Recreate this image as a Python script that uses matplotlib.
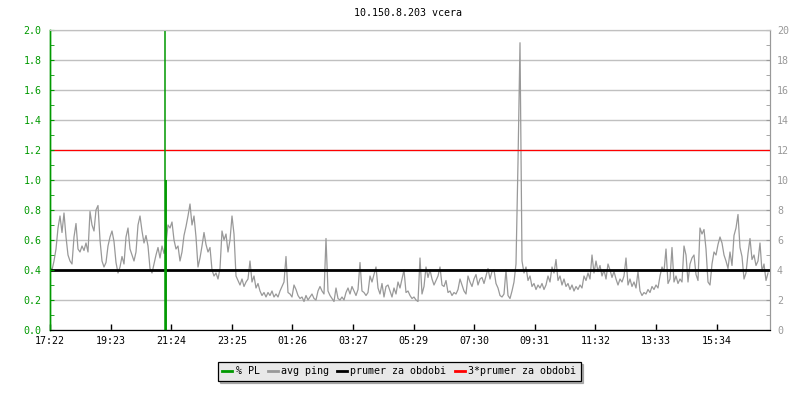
import matplotlib
matplotlib.use("Agg")
import matplotlib.pyplot as plt
import numpy as np

GREEN = "#009900"; GREY = "#999999"; GRID = "#c0c0c0"; RED = "#ff0000"
FONT = "DejaVu Sans Mono"
plt.rcParams.update({"font.family": FONT, "font.size": 7.2})

# avg ping in ms, one sample every 4 minutes starting 17:22
ping = [
    4.2, 4.0, 4.6, 5.4, 6.8, 7.6, 6.5, 7.8, 6.2, 5.0, 4.6, 4.4, 6.2, 7.1, 5.4, 5.2, 5.6, 5.3, 5.8, 5.2,
    7.9, 7.0, 6.6, 8.0, 8.3, 6.0, 4.6, 4.2, 4.5, 5.6, 6.2, 6.6, 5.9, 4.5, 3.8, 4.2, 4.9, 4.4, 6.2, 6.8,
    5.4, 5.0, 4.6, 5.2, 7.0, 7.6, 6.6, 5.8, 6.3, 5.6, 4.1, 3.8, 4.4, 5.0, 5.5, 4.8, 5.6, 5.1, 5.8, 7.0,
    6.8, 7.2, 6.0, 5.4, 5.6, 4.6, 5.2, 6.3, 6.9, 7.6, 8.4, 7.0, 7.6, 6.2, 4.2, 4.8, 5.6, 6.5, 5.7, 5.2,
    5.5, 4.0, 3.6, 3.8, 3.4, 4.1, 6.6, 6.0, 6.4, 5.2,
    6.0, 7.6, 6.4, 3.6, 3.3, 3.0, 3.4, 2.9, 3.2, 3.4, 4.6, 3.2, 3.6, 2.8, 3.1, 2.6, 2.3, 2.5, 2.2, 2.5,
    2.3, 2.6, 2.2, 2.4, 2.2, 2.6, 2.9, 3.2, 4.9, 2.5, 2.4, 2.2, 3.0, 2.7, 2.3, 2.1, 2.2, 1.9, 2.3, 2.0,
    2.2, 2.4, 2.1, 2.0, 2.6, 2.9, 2.6, 2.4, 6.1, 2.6, 2.3, 2.1, 1.9, 2.8, 2.1, 2.0, 2.2, 2.0, 2.5, 2.8,
    2.4, 2.9, 2.6, 2.3, 2.7, 4.5, 2.6, 2.5, 2.3, 2.5, 3.6, 3.2, 3.7, 4.2, 2.8, 2.4, 3.1, 2.2, 2.9, 3.0,
    2.6, 2.2, 2.8, 2.4, 3.2, 2.8, 3.4, 4.0, 2.5, 2.6,
    2.3, 2.1, 2.2, 2.0, 1.9, 4.8, 2.4, 2.9, 4.2, 3.5, 4.0, 3.4, 3.0, 3.3, 3.6, 4.2, 3.0, 2.9, 3.3, 2.5,
    2.6, 2.3, 2.5, 2.4, 2.7, 3.4, 3.0, 2.6, 2.4, 3.6, 3.2, 2.9, 3.4, 3.7, 3.0, 3.4, 3.5, 3.1, 3.6, 4.1,
    3.4, 3.9, 4.0, 3.1, 2.8, 2.3, 2.2, 2.4, 4.0, 2.3, 2.1, 2.6, 3.2, 4.4, 11.2, 19.15, 4.6, 3.8, 4.2, 3.3,
    3.6, 2.9, 3.1, 2.7, 3.0, 2.8, 3.1, 2.7, 3.0, 3.6, 3.2, 4.2, 3.8, 4.7, 3.3, 3.6, 3.0, 3.4, 2.9, 3.1,
    2.7, 3.0, 2.6, 2.9, 2.7, 3.0, 2.8, 3.6, 3.3, 3.8,
    3.4, 5.0, 3.8, 4.6, 3.9, 4.3, 3.6, 4.0, 3.4, 4.4, 4.0, 3.5, 3.9, 3.4, 3.0, 3.4, 3.2, 3.6, 4.8, 3.0,
    3.4, 2.9, 3.2, 2.8, 3.9, 2.6, 2.3, 2.5, 2.4, 2.7, 2.5, 2.9, 2.7, 3.0, 2.8, 3.6, 4.2, 3.9, 5.4, 3.1,
    3.4, 5.5, 3.2, 3.6, 3.1, 3.4, 3.2, 5.6, 5.0, 3.2, 4.4, 4.8, 5.0, 3.7, 3.3, 6.8, 6.4, 6.7, 5.4, 3.2,
    3.0, 4.4, 5.2, 5.0, 5.7, 6.2, 5.8, 5.0, 4.6, 4.1, 5.2, 4.3, 6.3, 6.8, 7.7, 5.5, 4.9, 3.4, 3.8, 5.1,
    6.1, 4.7, 5.0, 4.3, 4.6, 5.8, 3.9, 4.4, 3.3, 3.8,
]
step_min = 4
mean_ping = 4.0          # prumer za obdobi (ms)
mean3_ping = 12.0        # 3*prumer za obdobi (ms)

# packet loss (%), only non-zero samples
pl_min = [230, 231, 232]
pl_val = [2.5, 1.0, 1.0]

tick_labels = ["17:22", "19:23", "21:24", "23:25", "01:26", "03:27",
               "05:29", "07:30", "09:31", "11:32", "13:33", "15:34"]
tick_step = 121.2

t = np.arange(len(ping)) * step_min

fig = plt.figure(figsize=(8, 4), dpi=100)
ax2 = fig.add_axes([50/800, 1-330/400, 720/800, 300/400])   # ping, right axis
ax = ax2.twinx()                                            # PL, left axis
ax.yaxis.tick_left(); ax.yaxis.set_label_position("left")
ax2.yaxis.tick_right()
ax.set_zorder(ax2.get_zorder() + 1); ax.patch.set_visible(False)

ax2.plot(t, ping, color=GREY, lw=0.9, zorder=2)
ax2.axhline(mean_ping, color="black", lw=2.0, zorder=3)
ax2.axhline(mean3_ping, color=RED, lw=0.9, zorder=3)
ax.vlines(pl_min, 0, pl_val, color=GREEN, lw=1.1)

ax2.set_xlim(0, 1440); ax2.set_ylim(0, 20)
ax.set_ylim(0, 2.0)

ax2.set_yticks(np.arange(0, 21, 2)); ax2.set_yticks(np.arange(1, 20, 2), minor=True)
ax2.grid(axis="y", color=GRID, lw=1.0, zorder=0)
ax2.tick_params(axis="y", which="both", direction="in", length=3, color=GREY, labelcolor=GREY,
                right=True, left=False, labelright=True, labelleft=False, pad=5)
ax2.set_xticks(np.arange(len(tick_labels)) * tick_step)
ax2.set_xticklabels(tick_labels)
ax2.tick_params(axis="x", direction="in", length=4, width=1, color="black", pad=4)

ax.set_yticks(np.arange(0, 2.01, 0.2)); ax.set_yticks(np.arange(0.1, 2.0, 0.2), minor=True)
ax.set_yticklabels([f"{v:.1f}" for v in np.arange(0, 2.01, 0.2)])
ax.tick_params(axis="y", which="both", direction="in", length=3, color=GREEN, labelcolor=GREEN,
               left=True, right=False, labelleft=True, labelright=False, pad=6)

for a in (ax, ax2):
    a.spines["top"].set_color(GRID)
    a.spines["right"].set_color(GREY)
    a.spines["left"].set_color(GREEN)
    a.spines["bottom"].set_color("black")
    a.spines["left"].set_linewidth(1.0)

fig.text(408/800, 1-13/400, "10.150.8.203 vcera", ha="center", va="center", fontsize=7.2)

handles = [plt.Line2D([], [], color=c, lw=2) for c in (GREEN, GREY, "black", RED)]
leg = fig.legend(handles, ["% PL", "avg ping", "prumer za obdobi", "3*prumer za obdobi"],
                 loc="center", bbox_to_anchor=(399/800, 1-371/400), ncol=4, frameon=True,
                 fancybox=False, shadow={"color": "#707070"}, handlelength=1.0, handletextpad=0.35,
                 columnspacing=0.8, borderpad=0.45, fontsize=7.2)
leg.get_frame().set_facecolor("#e8e8e8"); leg.get_frame().set_alpha(1)
leg.get_frame().set_edgecolor("black"); leg.get_frame().set_linewidth(0.9)

fig.savefig("out.png", dpi=100)
